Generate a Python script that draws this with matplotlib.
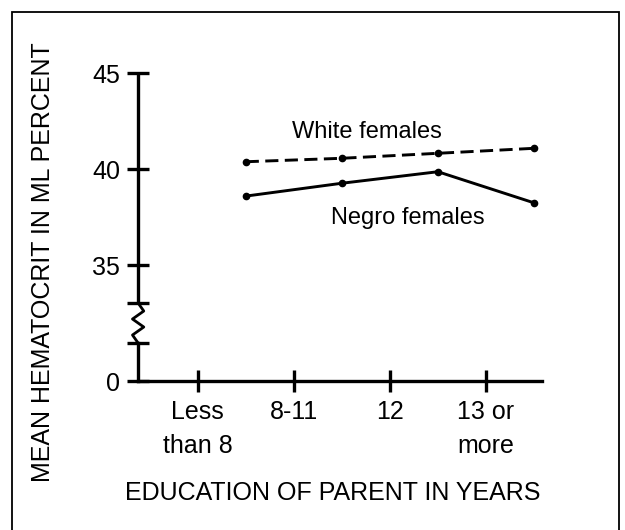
import matplotlib
matplotlib.use("Agg")
import matplotlib.pyplot as plt
from matplotlib.patches import Rectangle
import numpy as np

plt.rcParams['font.family'] = ['Liberation Sans', 'DejaVu Sans']

categories = ["Less\nthan 8", "8-11", "12", "13 or\nmore"]
white_females = [40.38, 40.56, 40.82, 41.08]
negro_females = [38.59, 39.26, 39.86, 38.24]
ytick_labels = ["0", "35", "40", "45"]

Y_ZERO = 28.96  # position where the broken axis shows 0
BREAK_TOP, BREAK_BOT = 33.02, 30.94

fig = plt.figure(figsize=(6.25, 5.3), dpi=100)
ax = fig.add_axes([0.221, 0.2811, 0.646, 0.5811])

x = np.arange(len(white_females))
ax.plot(x, white_females, color='black', lw=2.1, dashes=(4.5, 2.2),
        marker='o', ms=4.5)
ax.plot(x, negro_females, color='black', lw=2.1, marker='o', ms=4.5)

ax.set_xlim(-1.12, 3.082)
ax.set_ylim(Y_ZERO, 45)

ax.set_xticks(x - 0.5)
ax.set_xticklabels(categories, fontsize=18, linespacing=1.5)
ax.set_yticks([Y_ZERO, BREAK_BOT, BREAK_TOP, 35, 40, 45])
ax.set_yticklabels([ytick_labels[0], "", "", *ytick_labels[1:]], fontsize=18)
ax.tick_params(axis='both', direction='inout', length=16, width=2.4,
               color='black')
ax.tick_params(axis='x', pad=6)
ax.tick_params(axis='y', pad=5)

for s in ['top', 'right', 'left']:
    ax.spines[s].set_visible(False)
ax.spines['bottom'].set_linewidth(2.4)

# left axis with break zigzag
tr = ax.get_yaxis_transform()
ax.plot([0, 0], [45, BREAK_TOP], color='black', lw=2.4, transform=tr,
        clip_on=False, solid_capstyle='butt')
ax.plot([0, 0], [BREAK_BOT, Y_ZERO], color='black', lw=2.4, transform=tr,
        clip_on=False, solid_capstyle='projecting')
d = 0.014
zz_y = np.linspace(BREAK_TOP, BREAK_BOT, 6)
zz_x = [0, d, -d, d, -d, 0]
ax.plot(zz_x, zz_y, color='black', lw=2.0, transform=tr, clip_on=False)

ax.text(1.265, 41.93, "White females", fontsize=17, ha='center', va='center')
ax.text(1.69, 37.45, "Negro females", fontsize=17, ha='center', va='center')

fig.text(0.0688, 0.5057, "MEAN HEMATOCRIT IN ML PERCENT", rotation=90,
         fontsize=18, ha='center', va='center')
fig.text(0.533, 0.0698, "EDUCATION OF PARENT IN YEARS", fontsize=18,
         ha='center', va='center')

fig.patches.append(Rectangle((0.0192, -0.05), 0.9712, 0.9774 + 0.05,
                             transform=fig.transFigure, fill=False,
                             edgecolor='black', lw=1.3, clip_on=False))

fig.savefig("out.png", dpi=100)
